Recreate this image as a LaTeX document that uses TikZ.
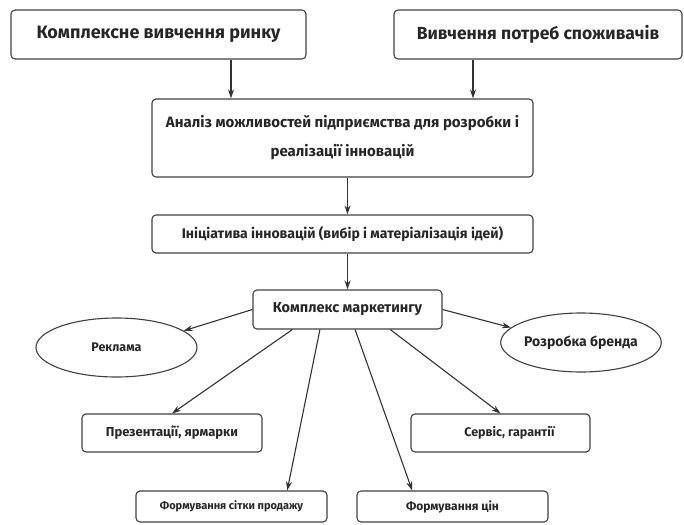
\documentclass[tikz,border=0pt]{standalone}
\usepackage{fontspec}
\setmainfont{Fira Sans}
\usetikzlibrary{arrows.meta,calc,shapes.geometric}

\begin{document}
\begin{tikzpicture}[x=1pt, y=-1pt,
  every node/.style={text=black!85},
  blk/.style={draw=black!75, line width=1.1pt, rounded corners=4pt, align=center, inner sep=0pt},
  oval/.style={draw=black!75, line width=1.1pt, ellipse, inner sep=0pt},
  arr/.style={draw=black!80, line width=1.1pt, -{Stealth[length=9pt,width=6pt]}}]

\useasboundingbox (0,0) rectangle (684,524);

\node[blk, minimum width=295pt, minimum height=49pt, font=\bfseries\fontsize{18}{21}\selectfont] (rynok) at (158.5, 34.5) {Комплексне вивчення ринку};
\node[blk, minimum width=288pt, minimum height=49pt, font=\bfseries\fontsize{17.5}{21}\selectfont] (potreby) at (538, 34.5) {Вивчення потреб споживачів};

\node[blk, minimum width=381pt, minimum height=78pt, font=\bfseries\fontsize{15}{29}\selectfont] (analiz) at (342.5, 138) {Аналіз можливостей підприємства для розробки і\\ реалізації інновацій};
\node[blk, minimum width=381pt, minimum height=38pt, font=\bfseries\fontsize{14}{17}\selectfont] (initsiat) at (342.5, 234) {Ініціатива інновацій (вибір і матеріалізація ідей)};
\node[blk, minimum width=189pt, minimum height=39pt, font=\bfseries\fontsize{14.5}{17}\selectfont] (kompleks) at (347.5, 309.5) {Комплекс маркетингу};

\node[oval, minimum width=161pt, minimum height=59pt, font=\bfseries\fontsize{12.5}{15}\selectfont] (reklama) at (116.5, 347.5) {Реклама};
\node[oval, minimum width=160pt, minimum height=59pt, font=\bfseries\fontsize{14}{17}\selectfont] (brend) at (581, 342.5) {Розробка бренда};

\node[blk, minimum width=180pt, minimum height=38pt, font=\bfseries\fontsize{13}{16}\selectfont] (prezent) at (172, 433) {Презентації, ярмарки};
\node[blk, minimum width=179pt, minimum height=38pt, font=\bfseries\fontsize{12.5}{15}\selectfont] (servis) at (500.5, 433) {\hspace*{18pt}Сервіс, гарантії};
\node[blk, minimum width=191pt, minimum height=31pt, font=\bfseries\fontsize{11}{14}\selectfont] (sitka) at (231.5, 506.5) {Формування сітки продажу};
\node[blk, minimum width=191pt, minimum height=31pt, font=\bfseries\fontsize{12}{14}\selectfont] (tsiny) at (452.5, 506.5) {Формування цін};

\coordinate (x1) at (231, 0);
\coordinate (x2) at (473, 0);

\draw[arr] (rynok.south -| x1) -- (analiz.north -| x1);
\draw[arr] (potreby.south -| x2) -- (analiz.north -| x2);
\draw[arr] (analiz.south -| kompleks.north) -- (initsiat.north -| kompleks.north);
\draw[arr] (initsiat.south -| kompleks.north) -- (kompleks.north);

\draw[arr] (kompleks.west) -- (reklama.14);
\draw[arr] (kompleks.east) -- (brend.168);
\draw[arr] ($(kompleks.south west)!0.21!(kompleks.south east)$) -- (prezent.north);
\draw[arr] ($(kompleks.south west)!0.355!(kompleks.south east)$) -- ($(sitka.north west)!0.79!(sitka.north east)$);
\draw[arr] ($(kompleks.south west)!0.54!(kompleks.south east)$) -- ($(tsiny.north west)!0.29!(tsiny.north east)$);
\draw[arr] ($(kompleks.south west)!0.725!(kompleks.south east)$) -- (servis.north);

\end{tikzpicture}
\end{document}
